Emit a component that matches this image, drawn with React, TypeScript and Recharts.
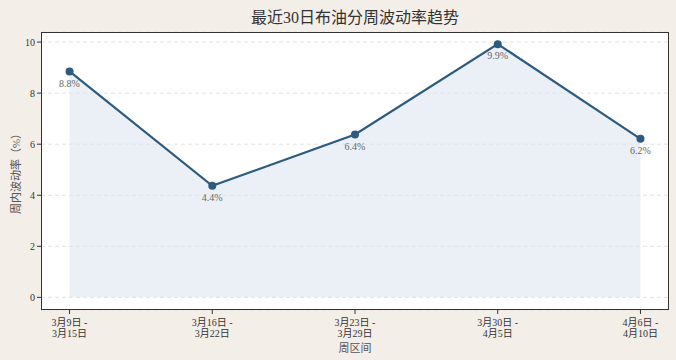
import React from "react";
import {
  Area, CartesianGrid, ComposedChart, LabelList, Line, XAxis, YAxis,
} from "recharts";

const weekStarts = ["3月9日 -", "3月16日 -", "3月23日 -", "3月30日 -", "4月6日 -"];
const weekEnds = ["3月15日", "3月22日", "3月29日", "4月5日", "4月10日"];
const volatility = [8.85, 4.37, 6.38, 9.92, 6.21];
const yTicks = [0, 2, 4, 6, 8, 10];

const FONT = '"Liberation Serif", "Noto Sans CJK SC", serif';
const LINE_C = "#2c5b7f";
const TEXT = "#333";

const data = volatility.map((v, i) => ({ idx: i, v }));

function WeekTick(props: any) {
  const { x, y, payload } = props;
  const i = payload.value as number;
  return (
    <text x={x} y={y} textAnchor="middle" fontSize={10} fill={TEXT} fontFamily={FONT}>
      <tspan x={x} dy={10}>{weekStarts[i]}</tspan>
      <tspan x={x} dy={11}>{weekEnds[i]}</tspan>
    </text>
  );
}

export default function App() {
  return (
    <div style={{ position: "absolute", left: 0, top: 0, width: 676, height: 360, background: "#f3efe8", fontFamily: FONT }}>
      <div style={{ position: "absolute", left: 41, width: 628, top: 4, textAlign: "center", fontSize: 16, color: TEXT }}>
        最近30日布油分周波动率趋势
      </div>
      <ComposedChart width={676} height={360} data={data} margin={{ top: 32, right: 7, left: 8, bottom: 0 }}>
        <CartesianGrid fill="#fff" stroke="#e2e2e2" strokeDasharray="4 3" vertical={false} />
        <XAxis
          type="number"
          dataKey="idx"
          domain={[-0.2, 4.2]}
          ticks={[0, 1, 2, 3, 4]}
          tick={<WeekTick />}
          tickLine={{ stroke: TEXT }}
          tickSize={4}
          axisLine={false}
          height={50}
          interval={0}
        />
        <YAxis
          type="number"
          domain={[-0.495, 10.395]}
          ticks={yTicks}
          allowDataOverflow
          width={33}
          tick={{ fontSize: 10, fill: TEXT, fontFamily: FONT }}
          tickLine={{ stroke: TEXT }}
          tickSize={4}
          axisLine={false}
        />
        <Area
          dataKey="v"
          type="linear"
          baseValue={0}
          stroke="none"
          fill="#dde6f1"
          fillOpacity={0.6}
          isAnimationActive={false}
        />
        <Line
          dataKey="v"
          type="linear"
          stroke={LINE_C}
          strokeWidth={2.2}
          dot={{ r: 4, fill: LINE_C, stroke: LINE_C, strokeWidth: 0 }}
          isAnimationActive={false}
        >
          <LabelList
            dataKey="v"
            position="bottom"
            offset={8}
            formatter={(v: any) => `${Number(v).toFixed(1)}%`}
            style={{ fontSize: 10, fill: "#666", fontFamily: FONT }}
          />
        </Line>
      </ComposedChart>
      <div style={{ position: "absolute", left: 41, top: 32, width: 626, height: 276, border: "1px solid #333", pointerEvents: "none" }} />
      <div style={{ position: "absolute", left: 41, width: 628, top: 339, textAlign: "center", fontSize: 11, color: "#555" }}>
        周区间
      </div>
      <div style={{ position: "absolute", left: 15, top: 171, transform: "translate(-50%, -50%) rotate(-90deg)", whiteSpace: "nowrap", fontSize: 11, color: "#555" }}>
        周内波动率（%）
      </div>
    </div>
  );
}
